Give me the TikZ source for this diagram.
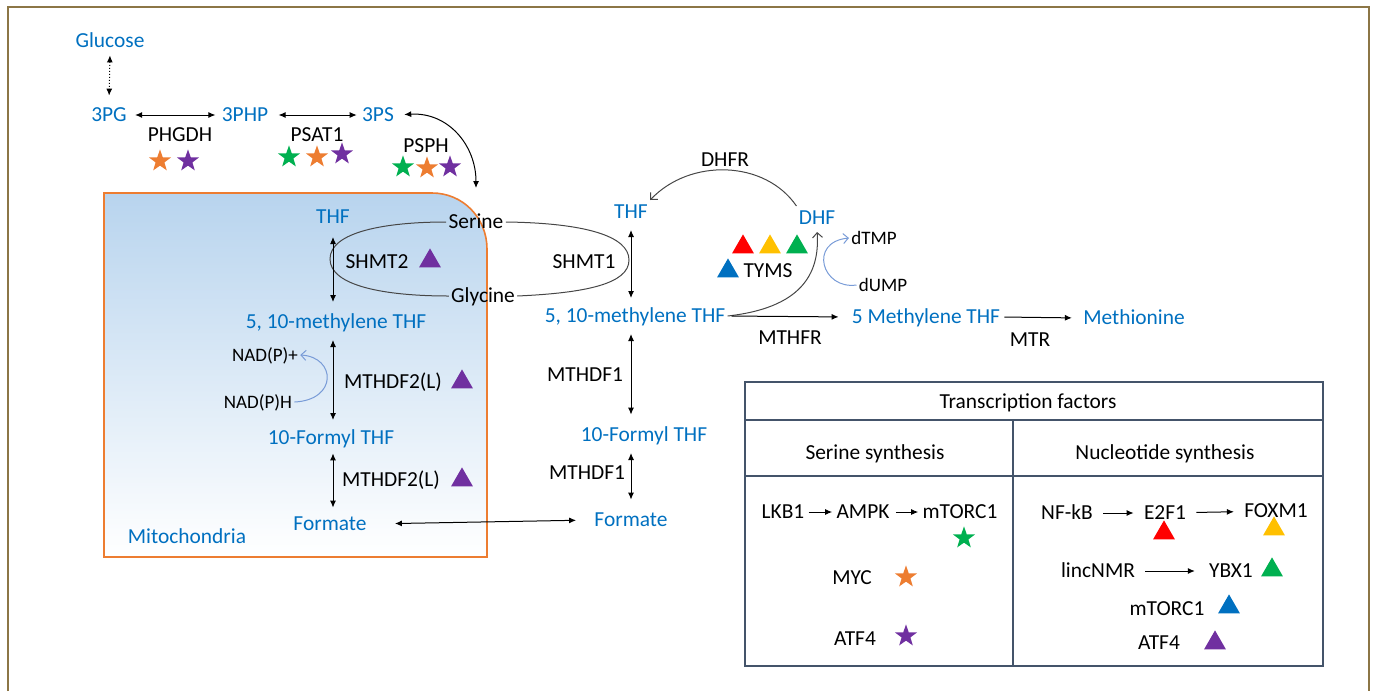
\documentclass[tikz,border=0pt]{standalone}
\usepackage{fontspec}
\setmainfont{Carlito}
\usetikzlibrary{arrows.meta,shapes.geometric}
\definecolor{metblue}{RGB}{0,112,192}
\definecolor{mitoorange}{RGB}{237,125,49}
\definecolor{mitofill}{RGB}{184,212,238}
\definecolor{tfgreen}{RGB}{0,176,80}
\definecolor{tforange}{RGB}{237,125,49}
\definecolor{tfpurple}{RGB}{112,48,160}
\definecolor{tfred}{RGB}{255,0,0}
\definecolor{tfyellow}{RGB}{255,192,0}
\definecolor{tfblue}{RGB}{0,112,192}
\definecolor{framebrown}{RGB}{140,118,70}
\definecolor{tableline}{RGB}{68,84,106}
\definecolor{nadblue}{RGB}{120,155,215}
\definecolor{loopgray}{RGB}{70,70,70}
\tikzset{
  met/.style={text=metblue, font=\fontsize{10.7}{12}\selectfont, inner sep=1pt, text height=0.8em, text depth=0.16em},
  enz/.style={text=black, font=\fontsize{10.7}{12}\selectfont, inner sep=1pt, text height=0.8em, text depth=0.16em},
  cof/.style={text=black, font=\fontsize{9.5}{11}\selectfont, inner sep=1pt, text height=0.8em, text depth=0.16em},
  tfstar/.style={star, star points=5, star point ratio=2.5, fill=#1, inner sep=0pt, minimum size=11.6pt},
  tftri/.style={regular polygon, regular polygon sides=3, fill=#1, inner sep=0pt, minimum size=12.6pt},
  rxn/.style={{Latex[length=3.5pt,width=3pt]}-{Latex[length=3.5pt,width=3pt]}, line width=0.5pt, shorten <=3pt, shorten >=3pt},
  fwd/.style={-{Latex[length=3.5pt,width=3pt]}, line width=0.5pt},
  curv/.style={-{Straight Barb[length=2.5pt,width=5pt]}, line width=0.5pt},
}
\begin{document}
\begin{tikzpicture}[x=0.5pt, y=-0.5pt]
\useasboundingbox (0,0) rectangle (1376,691);
\draw[framebrown, line width=1.2pt] (8,691) -- (8,7) -- (1369,7) -- (1369,691);
\shadedraw[top color=mitofill, bottom color=white, draw=mitoorange, line width=0.8pt]
     (104,557) -- (104,193) -- (432,193) .. controls (463,193) and (487,218) .. (487,249) -- (487,557) -- cycle;

\node[met] (glucose)  at (110,41)  {Glucose};
\node[met] (pg)       at (109,115) {3PG};
\node[met] (php)      at (245,115) {3PHP};
\node[met] (ps)       at (378,115) {3PS};
\node[enz] (phgdh)    at (180,135) {PHGDH};
\node[enz] (psat)     at (317,135) {PSAT1};
\node[enz] (psph)     at (426,146) {PSPH};
\node[tfstar=tforange] (phgdhA) at (160,161) {};
\node[tfstar=tfpurple] (phgdhB) at (188,161) {};
\node[tfstar=tfgreen]  (psatA)  at (289,157) {};
\node[tfstar=tforange] (psatB)  at (317,157) {};
\node[tfstar=tfpurple] (psatC)  at (342,154) {};
\node[tfstar=tfgreen]  (psphA)  at (403,167) {};
\node[tfstar=tforange] (psphB)  at (427,168) {};
\node[tfstar=tfpurple] (psphC)  at (450,167) {};

\node[met] (thfm)     at (333,217) {THF};
\node[enz] (serine)   at (476,222) {Serine};
\node[enz] (glycine)  at (483,296) {Glycine};
\node[enz] (shmtm)    at (377,262) {SHMT2};
\node[tftri=tfpurple] (shmtmT) at (430,261) {};
\node[met] (methm)    at (336,322) {5, 10-methylene THF};
\node[cof] (nadp)     at (265,355) {NAD(P)+};
\node[cof] (nadh)     at (258,402) {NAD(P)H};
\node[enz] (mthdmA)   at (393,382) {MTHDF2(L)};
\node[tftri=tfpurple] (mthdmAT) at (462,382) {};
\node[met] (formm)    at (331,438) {10-Formyl THF};
\node[enz] (mthdmB)   at (391,480) {MTHDF2(L)};
\node[tftri=tfpurple] (mthdmBT) at (462,480) {};
\node[met] (formatem) at (330,524) {Formate};
\node[met] (mito)     at (187,537) {Mitochondria};

\node[met] (thfc)     at (631,212) {THF};
\node[enz] (shmtc)    at (584,262) {SHMT1};
\node[met] (methc)    at (635,316) {5, 10-methylene THF};
\node[enz] (mthdcA)   at (585,375) {MTHDF1};
\node[met] (formc)    at (644,435) {10-Formyl THF};
\node[enz] (mthdcB)   at (587,473) {MTHDF1};
\node[met] (formatec) at (631,520) {Formate};
\node[enz] (dhfr)     at (725,160) {DHFR};
\node[met] (dhf)      at (817,218) {DHF};
\node[tftri=tfred]    (tymsA) at (743,247) {};
\node[tftri=tfyellow] (tymsB) at (770,247) {};
\node[tftri=tfgreen]  (tymsC) at (797,247) {};
\node[tftri=tfblue]   (tymsD) at (728,271) {};
\node[enz] (tyms)     at (768,271) {TYMS};
\node[cof] (dtmp)     at (874,238) {dTMP};
\node[cof] (dump)     at (883,285) {dUMP};
\node[met] (mthf)     at (926,317) {5 Methylene THF};
\node[enz] (mthfr)    at (790,338) {MTHFR};
\node[met] (methio)   at (1134,318) {Methionine};
\node[enz] (mtr)      at (1030,340) {MTR};

\draw[rxn, densely dotted, shorten <=1.2pt, shorten >=3.7pt] (glucose.south) -- (pg.north);
\draw[rxn, shorten >=2pt] (pg) -- (php);
\draw[rxn, shorten <=4pt, shorten >=1.5pt] (php) -- (ps);
\draw[rxn, shorten <=4pt, shorten >=11pt] (ps.east) .. controls (448,112) and (476,145) .. (serine.north);
\draw[loopgray, line width=0.5pt] (serine.west) .. controls (385,222) and (330,232) .. (330,259) .. controls (330,286) and (385,296) .. (glycine.west);
\draw[loopgray, line width=0.5pt] (serine.east) .. controls (585,223) and (629,236) .. (629,260) .. controls (629,284) and (585,293) .. (glycine.east);
\draw[rxn, shorten <=4pt, shorten >=4pt] (thfm.south) -- (thfm.south |- methm.north);
\draw[rxn] (methm.south -| thfm.south) -- (formm.north -| thfm.south);
\draw[rxn, shorten <=1.7pt, shorten >=2.2pt] (formm.south -| thfm.south) -- (formatem.north -| thfm.south);
\draw[curv, nadblue] (nadh.east) .. controls (338,400) and (336,357) .. (nadp.east);
\draw[rxn, shorten <=13pt, shorten >=8pt] (formatem.east) -- (formatec.west);

\draw[rxn] (thfc.south) -- (thfc.south |- methc.north);
\draw[rxn, shorten >=4.2pt] (methc.south -| thfc.south) -- (formc.north -| thfc.south);
\draw[rxn, shorten >=4.2pt] (formc.south -| thfc.south) -- (formatec.north -| thfc.south);
\draw[curv, loopgray] (dhf.north west) .. controls (765,160) and (690,158) .. (thfc.north east);
\draw[curv, loopgray, shorten >=1pt] (methc.east) .. controls (800,308) and (820,275) .. (dhf.south);
\draw[curv, nadblue] (dump.west) .. controls (822,290) and (808,242) .. (dtmp.west);
\draw[fwd, shorten <=2pt, shorten >=5.5pt] (methc.east) -- (mthf.west);
\draw[fwd, shorten <=1pt, shorten >=4.5pt] (mthf.east) -- (methio.west);

\draw[tableline, line width=0.8pt] (745,382) rectangle (1323,666);
\draw[tableline, line width=0.8pt] (745,420) -- (1323,420);
\draw[tableline, line width=0.8pt] (745,476) -- (1323,476);
\draw[tableline, line width=0.8pt] (1013,420) -- (1013,666);
\node[enz] (tfhead) at (1028,402) {Transcription factors};
\node[enz] (sersyn) at (875,453)  {Serine synthesis};
\node[enz] (nucsyn) at (1165,453) {Nucleotide synthesis};

\node[enz] (lkb)    at (783,512)  {LKB1};
\node[enz] (ampk)   at (863,512)  {AMPK};
\node[enz] (mtorA)  at (960,512)  {mTORC1};
\node[tfstar=tfgreen]  (mtorAS) at (964,538) {};
\node[enz] (myc)    at (852,578)  {MYC};
\node[tfstar=tforange] (mycS)   at (906,577) {};
\node[enz] (atfA)   at (855,639)  {ATF4};
\node[tfstar=tfpurple] (atfAS)  at (906,636) {};
\draw[fwd, shorten <=1pt, shorten >=1pt] (lkb) -- (ampk);
\draw[fwd, shorten <=2pt, shorten >=1pt] (ampk) -- (mtorA);

\node[enz] (nfkb)   at (1067,513) {NF-kB};
\node[enz] (etwo)   at (1165,513) {E2F1};
\node[tftri=tfred]    (etwoT)  at (1164,533) {};
\node[enz] (foxm)   at (1276,511) {FOXM1};
\node[tftri=tfyellow] (foxmT)  at (1274,529) {};
\node[enz] (linc)   at (1098,571) {lincNMR};
\node[enz] (ybx)    at (1231,571) {YBX1};
\node[tftri=tfgreen]  (ybxT)   at (1272,570) {};
\node[enz] (mtorB)  at (1167,609) {mTORC1};
\node[tftri=tfblue]   (mtorBT) at (1229,607) {};
\node[enz] (atfB)   at (1159,643) {ATF4};
\node[tftri=tfpurple] (atfBT)  at (1215,643) {};
\draw[fwd, shorten <=4pt, shorten >=4pt] (nfkb) -- (etwo);
\draw[fwd, shorten <=4pt, shorten >=4pt] (etwo) -- (foxm);
\draw[fwd, shorten <=4pt, shorten >=6pt] (linc) -- (ybx);
\end{tikzpicture}
\end{document}
